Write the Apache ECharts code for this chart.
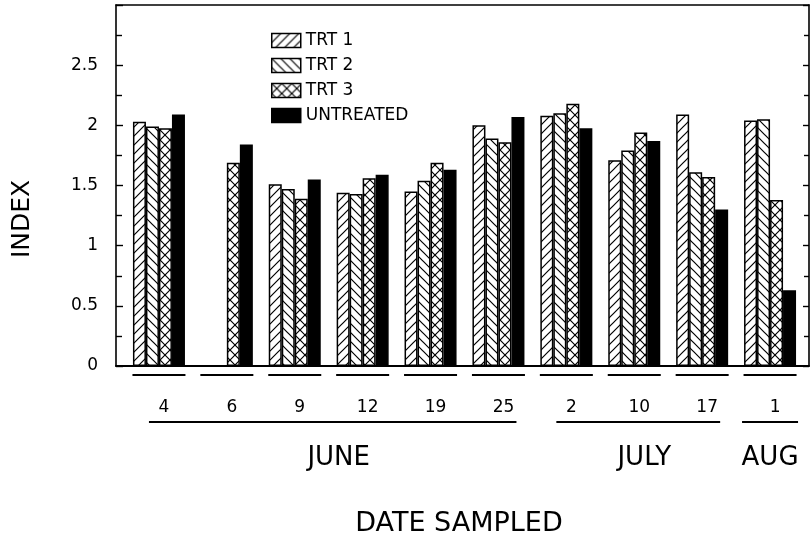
<!DOCTYPE html>
<html><head><meta charset="utf-8">
<script src="https://cdn.jsdelivr.net/npm/echarts@6/dist/echarts.min.js"></script>
<style>html,body{margin:0;padding:0;background:#fff}#c{width:811px;height:542px}</style>
</head><body><div id="c"></div>
<script>
// ---- data ----
const dates = ['4','6','9','12','19','25','2','10','17','1'];
const months = ['JUNE','JULY','AUG'];
const monthFirst = [0,6,9];
const monthLast = [5,8,9];
const seriesNames = ['TRT 1','TRT 2','TRT 3','UNTREATED'];
const trt1 = [2.03,null,1.51,1.44,1.45,2.00,2.08,1.71,2.09,2.04];
const trt2 = [1.99,null,1.47,1.43,1.54,1.89,2.10,1.79,1.61,2.05];
const trt3 = [1.975,1.69,1.39,1.56,1.69,1.86,2.18,1.94,1.57,1.38];
const untreated = [2.09,1.84,1.55,1.59,1.63,2.07,1.975,1.87,1.30,0.63];
const yMin = 0, yMax = 3, yStep = 0.5;

const FONT = '"DejaVu Sans", sans-serif';

function hatch(kind){
  const s = kind === 'x' ? 10 : 9;
  const c = document.createElement('canvas'); c.width = s; c.height = s;
  const g = c.getContext('2d');
  g.fillStyle = '#fff'; g.fillRect(0,0,s,s);
  g.strokeStyle = '#000'; g.lineWidth = 1.2;
  const fwd = () => { g.beginPath(); g.moveTo(-1,s+1); g.lineTo(s+1,-1); g.moveTo(-1,1); g.lineTo(1,-1); g.moveTo(s-1,s+1); g.lineTo(s+1,s-1); g.stroke(); };
  const back = () => { g.beginPath(); g.moveTo(-1,-1); g.lineTo(s+1,s+1); g.moveTo(s-1,-1); g.lineTo(s+1,1); g.moveTo(-1,s-1); g.lineTo(1,s+1); g.stroke(); };
  if (kind === 'f') fwd();
  else if (kind === 'b') back();
  else { fwd(); back(); }
  return { image: c, repeat: 'repeat' };
}
const fills = [hatch('f'), hatch('b'), hatch('x'), '#000'];
const values = [trt1, trt2, trt3, untreated];

const chart = echarts.init(document.getElementById('c'), null, {renderer:'canvas'});
const frameLine = { show: true, onZero: false, lineStyle: { color: '#000', width: 1.6 } };
const off = { show: false };

const option = {
  backgroundColor: '#fff',
  animation: false,
  textStyle: { fontFamily: FONT, color: '#000' },
  grid: [
    { left: 116, right: 2, top: 5, bottom: 176 },
    { left: 125, right: 7, top: 5, bottom: 176 }
  ],
  legend: {
    data: seriesNames,
    orient: 'vertical',
    icon: 'rect',
    left: 266, top: 27,
    itemWidth: 29, itemHeight: 14, itemGap: 8,
    itemStyle: { borderColor: '#000', borderWidth: 1.5 },
    textStyle: { fontFamily: FONT, fontSize: 17, color: '#000' },
    selectedMode: false
  },
  xAxis: [
    { gridIndex: 0, type: 'value', min: 0, max: 1, position: 'bottom', axisLine: { show: true, onZero: false, lineStyle: { color: '#000', width: 2 } }, axisTick: off, axisLabel: off, splitLine: off },
    { gridIndex: 0, type: 'value', min: 0, max: 1, position: 'top', axisLine: frameLine, axisTick: off, axisLabel: off, splitLine: off },
    { gridIndex: 1, type: 'category', data: dates, position: 'bottom', axisLine: off, axisTick: off, splitLine: off,
      axisLabel: { margin: 33, fontSize: 17, fontFamily: FONT, color: '#000', padding: [0,0,0,10] } },
    { gridIndex: 1, type: 'category', data: dates, position: 'bottom', axisLine: off, axisTick: off, splitLine: off,
      axisLabel: { margin: 8, formatter: () => '{u| }', rich: { u: { width: 53, height: 2, backgroundColor: '#000' } } } }
  ],
  yAxis: [
    { gridIndex: 0, type: 'value', min: yMin, max: yMax, interval: yStep, position: 'left',
      axisLine: frameLine, axisTick: { show: true, inside: true, length: 7, lineStyle: { color: '#000', width: 1.4 } },
      minorTick: { show: true, splitNumber: 2, length: 6, lineStyle: { color: '#000', width: 1.4 } },
      axisLabel: { margin: 18, fontSize: 17, fontFamily: FONT, color: '#000', formatter: v => v >= yMax ? '' : String(v) },
      splitLine: off, minorSplitLine: off },
    { gridIndex: 0, type: 'value', min: yMin, max: yMax, interval: yStep, position: 'right',
      axisLine: frameLine, axisTick: { show: true, inside: true, length: 6, lineStyle: { color: '#000', width: 1.4 } },
      minorTick: { show: true, splitNumber: 2, length: 5, lineStyle: { color: '#000', width: 1.4 } },
      axisLabel: off, splitLine: off, minorSplitLine: off },
    { gridIndex: 1, type: 'value', min: yMin, max: yMax, show: false, splitLine: off }
  ],
  graphic: [
    { type: 'text', x: 22, y: 219, rotation: Math.PI / 2,
      style: { text: 'INDEX', fontSize: 25, fontFamily: FONT, fill: '#000', align: 'center', verticalAlign: 'middle' } },
    { type: 'text', x: 459, y: 524,
      style: { text: 'DATE SAMPLED', fontSize: 27, fontFamily: FONT, fill: '#000', align: 'center', verticalAlign: 'middle' } }
  ],
  series: seriesNames.map((name, i) => ({
    name, type: 'bar', xAxisIndex: 2, yAxisIndex: 2,
    data: values[i].map(v => v == null ? '-' : v),
    barWidth: 13, barGap: '0%',
    itemStyle: { color: fills[i], borderColor: '#000', borderWidth: 1.5 },
    emphasis: { disabled: true }
  })).concat([{
    type: 'custom', xAxisIndex: 2, yAxisIndex: 2, silent: true, clip: false,
    data: monthFirst.map((f, i) => [f, monthLast[i]]),
    encode: { x: [0, 1] },
    renderItem: (params, api) => {
      const a = api.coord([api.value(0), 0]);
      const b = api.coord([api.value(1), 0]);
      const single = api.value(0) === api.value(1);
      const x1 = single ? a[0] - 28 : a[0] - 10;
      const x2 = single ? b[0] + 28 : b[0] + 18;
      const y = a[1] + 56;
      return { type: 'group', children: [
        { type: 'line', shape: { x1, y1: y, x2, y2: y }, style: { stroke: '#000', lineWidth: 2 } },
        { type: 'text', style: { text: months[params.dataIndex], x: (x1 + x2) / 2 + (single ? 0 : 6), y: y + 36,
          align: 'center', verticalAlign: 'middle', fontSize: 26, fontFamily: FONT, fill: '#000' } }
      ] };
    }
  }])
};
chart.setOption(option);
</script></body></html>
